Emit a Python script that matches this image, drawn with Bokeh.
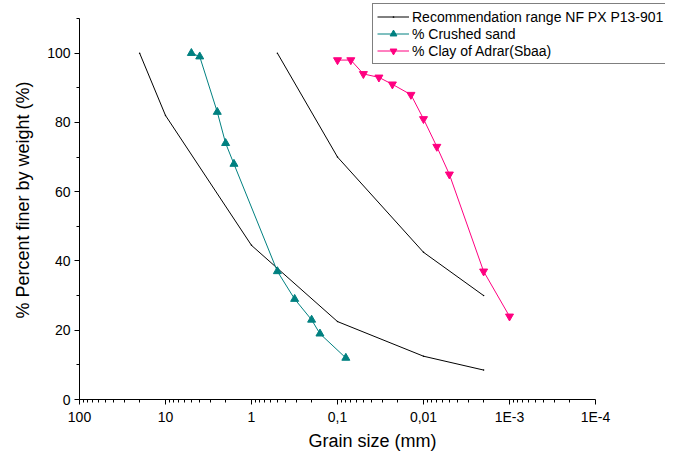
from bokeh.plotting import figure
from bokeh.models import Range1d, FixedTicker, Legend, LegendItem, LinearAxis
from bokeh.embed import file_html
from bokeh.resources import INLINE

# ---- data ----
range_coarse_size = [20, 10, 1, 0.1, 0.01, 0.002]
range_coarse_pct = [100, 82, 44.5, 22.5, 12.5, 8.5]
range_fine_size = [0.5, 0.1, 0.01, 0.002]
range_fine_pct = [100, 70, 42.5, 30]
sand_size = [5, 4, 2.5, 2, 1.6, 0.5, 0.315, 0.2, 0.16, 0.08]
sand_pct = [100, 99, 83, 74, 68, 37, 29, 23, 19, 12]
clay_size = [0.1, 0.07, 0.05, 0.033, 0.023, 0.014, 0.01, 0.007, 0.005, 0.002, 0.001]
clay_pct = [98, 98, 94, 93, 91, 88, 81, 73, 65, 37, 24]

x_ticks = [100, 10, 1, 0.1, 0.01, 0.001, 0.0001]
x_tick_labels = ["100", "10", "1", "0,1", "0,01", "1E-3", "1E-4"]
y_ticks = [0, 20, 40, 60, 80, 100]

FONT = "Liberation Sans"
TEAL = "#008080"
PINK = "#FF0080"

# axis spans 100 .. 1E-4 over 516 px and 0 .. 110 over 381 px; the frame is
# widened right and up so the overhanging legend is not clipped
AXIS_W, AXIS_H = 516, 381
EXTRA_R, EXTRA_T = 70, 18
px_per_decade = AXIS_W / 6.0
x_end = 1e-4 / 10 ** (EXTRA_R / px_per_decade)
y_end = 110 + EXTRA_T / (AXIS_H / 110.0)

p = figure(
    x_axis_type="log",
    x_range=Range1d(100, x_end),
    y_range=Range1d(0, y_end),
    frame_width=AXIS_W + EXTRA_R, frame_height=AXIS_H + EXTRA_T,
    min_border_left=79, min_border_top=0, min_border_right=0, min_border_bottom=50,
    output_backend="svg", toolbar_location=None,
)
p.outline_line_color = None
p.xgrid.visible = False
p.ygrid.visible = False
p.background_fill_color = "white"
p.border_fill_color = "white"

# minor ticks for the log axis: 2..9 times each decade
minor = []
for e in range(-4, 2):
    for k in range(2, 10):
        minor.append(k * 10.0 ** e)

p.xaxis.ticker = FixedTicker(ticks=x_ticks, minor_ticks=minor)
p.xaxis.major_label_overrides = {t: l for t, l in zip(x_ticks, x_tick_labels)}
p.xaxis.bounds = (1e-4, 100)
p.yaxis.ticker = FixedTicker(ticks=y_ticks, minor_ticks=[10, 30, 50, 70, 90, 110])
p.yaxis.bounds = (0, 110)

for ax in (p.xaxis[0], p.yaxis[0]):
    ax.axis_line_color = "black"
    ax.axis_line_width = 1
    ax.major_tick_line_color = "black"
    ax.minor_tick_line_color = "black"
    ax.major_tick_in = 0
    ax.major_tick_out = 5
    ax.minor_tick_in = 0
    ax.minor_tick_out = 3
    ax.major_label_text_font = FONT
    ax.major_label_text_font_size = "14px"
    ax.major_label_text_color = "black"
    ax.axis_label_text_font = FONT
    ax.axis_label_text_font_size = "18px"
    ax.axis_label_text_font_style = "normal"
    ax.axis_label_text_color = "black"

p.xaxis.axis_label = "Grain size (mm)"
p.xaxis.major_label_standoff = 4
p.yaxis.major_label_standoff = 4
p.xaxis.axis_label_standoff = 3

# y title carried by a bare axis so that it sits a little lower, as in the reference
title_axis = LinearAxis(
    axis_label="% Percent finer by weight (%)",
    ticker=FixedTicker(ticks=[]),
    bounds=(0, 100),
    axis_line_color=None,
    major_tick_line_color=None,
    minor_tick_line_color=None,
    major_label_text_font_size="0px",
    axis_label_text_font=FONT,
    axis_label_text_font_size="18px",
    axis_label_text_font_style="normal",
    axis_label_text_color="black",
    axis_label_standoff=12,
)
p.add_layout(title_axis, "left")

r1 = p.line(range_coarse_size, range_coarse_pct, line_color="black", line_width=1)
r2 = p.line(range_fine_size, range_fine_pct, line_color="black", line_width=1)
m1 = p.scatter(range_coarse_size, range_coarse_pct, marker="dot", size=6,
               fill_color="black", line_color="black")
p.scatter(range_fine_size, range_fine_pct, marker="dot", size=6,
          fill_color="black", line_color="black")

s_line = p.line(sand_size, sand_pct, line_color=TEAL, line_width=1)
s_mark = p.scatter(sand_size, sand_pct, marker="triangle", size=8,
                   fill_color=TEAL, line_color=TEAL)

c_line = p.line(clay_size, clay_pct, line_color=PINK, line_width=1)
c_mark = p.scatter(clay_size, clay_pct, marker="inverted_triangle", size=8,
                   fill_color=PINK, line_color=PINK)

legend = Legend(
    items=[
        LegendItem(label="Recommendation range NF PX P13-901", renderers=[r1, m1]),
        LegendItem(label="% Crushed sand", renderers=[s_line, s_mark]),
        LegendItem(label="% Clay of Adrar(Sbaa)", renderers=[c_line, c_mark]),
    ],
    location=(293, 335),
    border_line_color="black",
    border_line_width=1,
    background_fill_color="white",
    background_fill_alpha=1,
    label_text_font=FONT,
    label_text_font_size="14px",
    label_text_color="black",
    glyph_width=32,
    glyph_height=17,
    label_height=17,
    label_standoff=3,
    spacing=0,
    padding=4,
    margin=0,
)
p.add_layout(legend, "center")

open("out.html", "w").write(file_html(p, INLINE))
